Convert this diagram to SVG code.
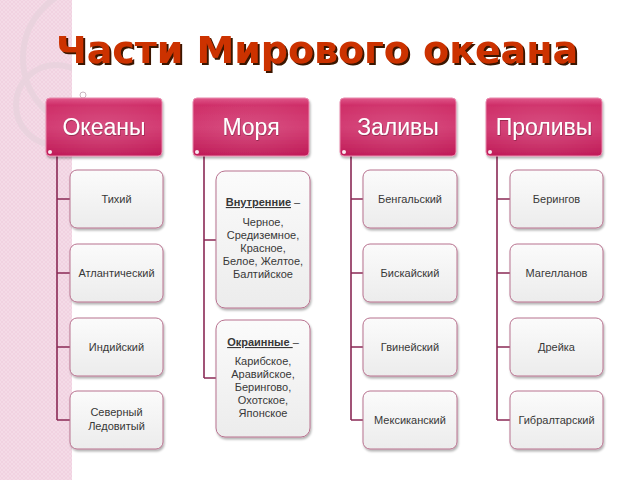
<svg xmlns="http://www.w3.org/2000/svg" width="640" height="480" viewBox="0 0 640 480">
<defs>
<linearGradient id="hg" x1="0" y1="0" x2="0" y2="1">
<stop offset="0" stop-color="#e0588a"/>
<stop offset="0.12" stop-color="#cf2f69"/>
<stop offset="0.5" stop-color="#d23a71"/>
<stop offset="1" stop-color="#c01c58"/>
</linearGradient>
<radialGradient id="hr" cx="0.5" cy="0.55" r="0.6">
<stop offset="0" stop-color="#ffffff" stop-opacity="0.12"/>
<stop offset="1" stop-color="#ffffff" stop-opacity="0"/>
</radialGradient>
<linearGradient id="cg" x1="0" y1="0" x2="0" y2="1">
<stop offset="0" stop-color="#fbfbfb"/>
<stop offset="1" stop-color="#ececec"/>
</linearGradient>
<filter id="sh" x="-10%" y="-10%" width="130%" height="130%">
<feDropShadow dx="1" dy="2" stdDeviation="1.2" flood-color="#000" flood-opacity="0.3"/>
</filter>
<filter id="tsh" x="-5%" y="-20%" width="110%" height="150%">
<feDropShadow dx="2" dy="2" stdDeviation="0.4" flood-color="#3a1606" flood-opacity="1"/>
</filter>
<filter id="hsh" x="-10%" y="-20%" width="120%" height="150%">
<feDropShadow dx="0.5" dy="1" stdDeviation="0.6" flood-color="#5a0a28" flood-opacity="0.5"/>
</filter>
<pattern id="hatch" width="4" height="4" patternUnits="userSpaceOnUse">
<rect width="4" height="4" fill="#f4dbe7"/>
<path d="M0 4L4 0M0 0L4 4" stroke="#efcddd" stroke-width="0.6"/>
</pattern>
<clipPath id="strip"><rect x="0" y="0" width="72" height="480"/></clipPath>
</defs>
<style>
.hdr{fill:url(#hg);stroke:#e889ad;stroke-width:1;filter:url(#sh)}
.htx{font-family:"Liberation Sans",Arial,sans-serif;font-size:23px;fill:#ffffff;text-anchor:middle;filter:url(#hsh)}
.box{fill:url(#cg);stroke:#b8728f;stroke-width:1;filter:url(#sh)}
.tx{font-family:"Liberation Sans",Arial,sans-serif;font-size:11px;fill:#383838;text-anchor:middle}
.b{font-weight:bold;text-decoration:underline}
.con{fill:none;stroke:#8a2a56;stroke-width:1.6}
.dot{fill:#ffffff;opacity:0.9}
.ttl{font-family:"DejaVu Sans",Verdana,sans-serif;font-weight:bold;font-size:38px;fill:#cc3300;filter:url(#tsh)}
</style>
<rect width="640" height="480" fill="#ffffff"/>
<rect x="0" y="0" width="72" height="480" fill="url(#hatch)"/>
<g clip-path="url(#strip)" fill="none" stroke="#e6d2dc" stroke-width="6" opacity="0.7">
<circle cx="56" cy="105" r="40"/>
<circle cx="95" cy="58" r="72"/>
</g>
<circle cx="83" cy="95" r="3" fill="none" stroke="#c9b6c0" stroke-width="1"/>
<text class="ttl" x="56" y="63" textLength="522" lengthAdjust="spacingAndGlyphs">Части Мирового океана</text>
<g id="connectors">
<path class="con" d="M57 156V420M57 199H70M57 273H70M57 347H70M57 420H70"/>
<path class="con" d="M204 156V378M204 240H216M204 378H216"/>
<path class="con" d="M351 156V420M351 199H363M351 273H363M351 347H363M351 420H363"/>
<path class="con" d="M497 156V420M497 199H510M497 273H510M497 347H510M497 420H510"/>
</g>
<g id="h-okeany">
<rect class="hdr" x="46" y="98" width="116" height="58" rx="4"/>
<rect x="46" y="98" width="116" height="58" rx="4" fill="url(#hr)"/>
<circle class="dot" cx="50" cy="152" r="2"/>
<text class="htx" x="104" y="135">Океаны</text>
</g>
<g id="h-morya">
<rect class="hdr" x="193" y="98" width="116" height="58" rx="4"/>
<rect x="193" y="98" width="116" height="58" rx="4" fill="url(#hr)"/>
<circle class="dot" cx="197" cy="152" r="2"/>
<text class="htx" x="251" y="135">Моря</text>
</g>
<g id="h-zalivy">
<rect class="hdr" x="340" y="98" width="116" height="58" rx="4"/>
<rect x="340" y="98" width="116" height="58" rx="4" fill="url(#hr)"/>
<circle class="dot" cx="344" cy="152" r="2"/>
<text class="htx" x="398" y="135">Заливы</text>
</g>
<g id="h-prolivy">
<rect class="hdr" x="486" y="98" width="116" height="58" rx="4"/>
<rect x="486" y="98" width="116" height="58" rx="4" fill="url(#hr)"/>
<circle class="dot" cx="490" cy="152" r="2"/>
<text class="htx" x="544" y="135">Проливы</text>
</g>
<g id="n-tihiy"><rect class="box" x="70" y="170" width="93" height="58" rx="7"/><text class="tx" x="116.5" y="203">Тихий</text></g>
<g id="n-atlant"><rect class="box" x="70" y="244" width="93" height="58" rx="7"/><text class="tx" x="116.5" y="277">Атлантический</text></g>
<g id="n-indiy"><rect class="box" x="70" y="318" width="93" height="58" rx="7"/><text class="tx" x="116.5" y="351">Индийский</text></g>
<g id="n-sever"><rect class="box" x="70" y="391" width="93" height="58" rx="7"/><text class="tx" x="116.5" y="416">Северный</text><text class="tx" x="116.5" y="430">Ледовитый</text></g>
<g id="n-vnutr"><rect class="box" x="216" y="171" width="94" height="137" rx="9"/>
<text class="tx" x="263" y="206"><tspan class="b">Внутренние</tspan> –</text>
<text class="tx" x="263" y="226">Черное,</text>
<text class="tx" x="263" y="239">Средиземное,</text>
<text class="tx" x="263" y="252">Красное,</text>
<text class="tx" x="263" y="265">Белое, Желтое,</text>
<text class="tx" x="263" y="278">Балтийское</text>
</g>
<g id="n-okrain"><rect class="box" x="216" y="320" width="94" height="117" rx="9"/>
<text class="tx" x="263" y="346"><tspan class="b">Окраинные </tspan>–</text>
<text class="tx" x="263" y="365">Карибское,</text>
<text class="tx" x="263" y="378">Аравийское,</text>
<text class="tx" x="263" y="391">Берингово,</text>
<text class="tx" x="263" y="404">Охотское,</text>
<text class="tx" x="263" y="417">Японское</text>
</g>
<g id="n-bengal"><rect class="box" x="363" y="170" width="94" height="58" rx="7"/><text class="tx" x="410" y="203">Бенгальский</text></g>
<g id="n-biskay"><rect class="box" x="363" y="244" width="94" height="58" rx="7"/><text class="tx" x="410" y="277">Бискайский</text></g>
<g id="n-gvineya"><rect class="box" x="363" y="318" width="94" height="58" rx="7"/><text class="tx" x="410" y="351">Гвинейский</text></g>
<g id="n-meksik"><rect class="box" x="363" y="391" width="94" height="58" rx="7"/><text class="tx" x="410" y="424">Мексиканский</text></g>
<g id="n-beringov"><rect class="box" x="510" y="170" width="93" height="58" rx="7"/><text class="tx" x="556.5" y="203">Берингов</text></g>
<g id="n-magellan"><rect class="box" x="510" y="244" width="93" height="58" rx="7"/><text class="tx" x="556.5" y="277">Магелланов</text></g>
<g id="n-dreyk"><rect class="box" x="510" y="318" width="93" height="58" rx="7"/><text class="tx" x="556.5" y="351">Дрейка</text></g>
<g id="n-gibr"><rect class="box" x="510" y="391" width="93" height="58" rx="7"/><text class="tx" x="556.5" y="424">Гибралтарский</text></g>
</svg>
